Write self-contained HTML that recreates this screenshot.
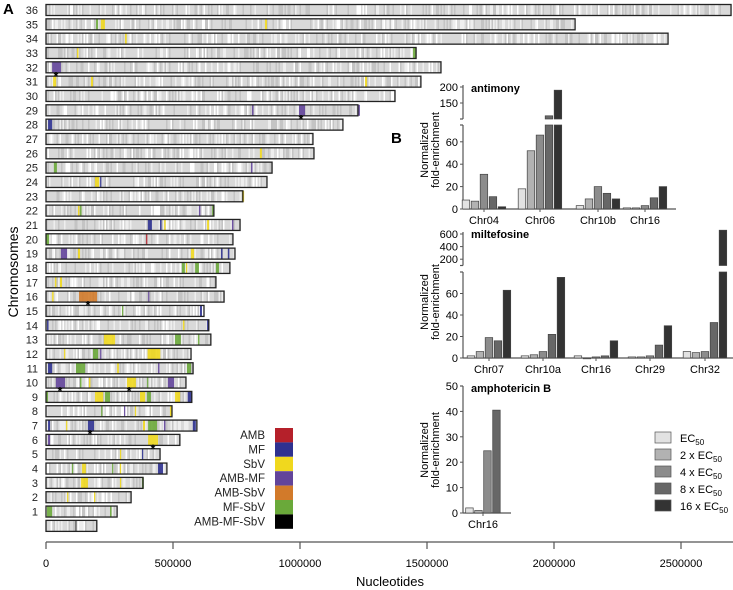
<!DOCTYPE html>
<html><head><meta charset="utf-8"><style>
html,body{margin:0;padding:0;background:#fff;}
svg{display:block;font-family:"Liberation Sans",sans-serif;}
</style></head><body>
<svg id="fig" width="733" height="590" viewBox="0 0 733 590" xmlns="http://www.w3.org/2000/svg">
<g id="panelA"></g>
<g id="panelB"></g>
</svg>
<script>
// ---------- Panel A data ----------
const chrNames = ["36","35","34","33","32","31","30","29","28","27","26","25","24","23","22","21","20","19","18","17","16","15","14","13","12","11","10","9","8","7","6","5","4","3","2","1",""];
const chrLengths = [2697000,2083000,2449000,1457000,1555000,1476000,1374000,1228000,1169000,1051000,1055000,890000,870000,775000,661000,764000,736000,744000,724000,669000,701000,622000,641000,649000,571000,579000,551000,574000,496000,594000,527000,449000,476000,382000,335000,280000,200000];
const featChr = ["35","35","35","34","33","33","32","31","31","31","29","29","29","28","26","25","25","24","24","23","22","22","22","22","21","21","21","21","21","20","20","19","19","19","19","19","18","18","18","18","17","17","16","16","16","15","15","14","14","14","13","13","13","12","12","12","12","11","11","11","11","11","10","10","10","10","10","10","9","9","9","9","9","9","9","8","8","8","8","7","7","7","7","7","7","7","6","6","5","5","4","4","4","4","4","3","3","3","2","2","1","1"];
const featStart = [197000,216000,862000,311000,122000,1445000,24000,28000,177000,1256000,811000,996000,1228000,8000,842000,31000,807000,193000,213000,772000,126000,134000,602000,654000,401000,449000,465000,634000,732000,0,394000,59000,126000,571000,689000,716000,535000,551000,587000,669000,35000,55000,24000,130000,402000,299000,606000,4000,539000,634000,228000,508000,598000,71000,185000,213000,400000,8000,118000,280000,441000,555000,39000,134000,169000,319000,398000,480000,0,193000,232000,370000,398000,508000,558000,217000,307000,350000,488000,8000,79000,165000,382000,402000,464000,578000,8000,402000,291000,378000,102000,142000,260000,291000,441000,138000,291000,378000,83000,189000,4000,252000];
const featEnd = [205000,232000,870000,318000,128000,1455000,59000,40000,185000,1264000,817000,1020000,1236000,24000,850000,43000,813000,209000,218000,780000,132000,140000,608000,660000,417000,455000,471000,642000,738000,12000,399000,83000,134000,583000,695000,722000,547000,556000,602000,681000,41000,63000,30000,201000,407000,304000,614000,10000,545000,640000,272000,531000,604000,76000,205000,218000,450000,24000,154000,287000,447000,571000,75000,140000,175000,354000,402000,504000,8000,225000,252000,390000,413000,528000,575000,222000,312000,355000,496000,16000,84000,189000,390000,437000,470000,590000,16000,441000,296000,382000,107000,157000,264000,296000,461000,165000,296000,385000,88000,194000,24000,258000];
const featType = ["MF-SbV","SbV","SbV","SbV","SbV","MF-SbV","AMB-MF","SbV","SbV","SbV","AMB-MF","AMB-MF","AMB-MF","MF","SbV","MF-SbV","AMB-MF","SbV","MF","SbV","SbV","MF-SbV","AMB-MF","MF-SbV","MF","MF","SbV","SbV","AMB-MF","MF-SbV","AMB","AMB-MF","SbV","SbV","MF","MF","MF-SbV","SbV","MF-SbV","MF-SbV","SbV","SbV","SbV","AMB-SbV","AMB-MF","MF-SbV","MF","MF","SbV","MF","SbV","MF-SbV","MF-SbV","SbV","MF-SbV","AMB-MF","SbV","MF","MF-SbV","SbV","AMB-MF","MF-SbV","AMB-MF","MF-SbV","SbV","SbV","MF-SbV","AMB-MF","MF-SbV","SbV","MF-SbV","SbV","MF-SbV","SbV","MF","MF-SbV","AMB-MF","SbV","SbV","MF","SbV","MF","SbV","MF-SbV","AMB-MF","MF","AMB-MF","SbV","SbV","MF","MF-SbV","SbV","MF-SbV","SbV","MF","SbV","SbV","MF-SbV","SbV","SbV","MF-SbV","MF-SbV"];
const starNt = [39000,1004000,165000,55000,327000,173000,421000];
const starRowBelow = ["32","29","16","10","10","7","6"];
const legendTypes = ["AMB","MF","SbV","AMB-MF","AMB-SbV","MF-SbV","AMB-MF-SbV"];
const legendColors = ["#b5202a","#2e3190","#f0d81e","#62449a","#d27a2a","#6aa93a","#000000"];
const xTicks = [0,500000,1000000,1500000,2000000,2500000];

// ---------- Panel B data ----------
const doseLabels = ["EC50","2 x EC50","4 x EC50","8 x EC50","16 x EC50"];
const doseColors = ["#e2e2e2","#b2b2b2","#8c8c8c","#676767","#333333"];
const sbCats = ["Chr04","Chr06","Chr10b","Chr16"];
const sbVals = [[8,7,31,11,2],[18,52,66,110,190],[3,9,20,14,9],[1,1,3,10,20]];
const mfCats = ["Chr07","Chr10a","Chr16","Chr29","Chr32"];
const mfVals = [[2,6,19,16,63],[2,3,6,22,75],[2,0,1,2,16],[1,1,2,12,30],[6,5,6,33,660]];
const ampCats = ["Chr16"];
const ampVals = [[2,1,24.5,40.5]];

const NS = "http://www.w3.org/2000/svg";
function mk(tag, attrs, parent, text){
  const e = document.createElementNS(NS, tag);
  for (const k in attrs) e.setAttribute(k, attrs[k]);
  if (text !== undefined) e.textContent = text;
  parent.appendChild(e); return e;
}
const A = document.getElementById("panelA");
const B = document.getElementById("panelB");
const xA = nt => 46 + nt * 127 / 500000;
const rowY = i => 10 + i * 14.33;
const colorOf = t => legendColors[legendTypes.indexOf(t)];

// title labels
let t = mk("text",{x:3,y:14,"font-size":15,"font-weight":"bold"},A,"A");
 
t = mk("text",{x:391,y:143,"font-size":15,"font-weight":"bold"},B,"B");
 
t = mk("text",{x:0,y:0,"font-size":14,"text-anchor":"middle",transform:"translate(18,272) rotate(-90)"},A,"Chromosomes");
 

// texture hash (pure visual texture)
function hsh(n){ n = (n ^ 61) ^ (n >>> 16); n = n + (n << 3); n = n ^ (n >>> 4); n = Math.imul(n, 0x27d4eb2d); n = n ^ (n >>> 15); return (n >>> 0) / 4294967295; }

chrNames.forEach((nm, i) => {
  const y = rowY(i), h = 11, x0 = xA(0), x1 = xA(chrLengths[i]);
  const g = mk("g",{},A);
  
  
  mk("rect",{x:x0,y:y-h/2,width:x1-x0,height:h,fill:"#d9d9d9"},g);
  for (let x = x0; x < x1 - 1; x += 1.5) {
    const r = hsh(i * 10007 + Math.round(x * 2));
    if (r > 0.55) {
      const c = r > 0.9 ? "#ffffff" : (r > 0.75 ? "#eeeeee" : "#c4c4c4");
      mk("rect",{x:x,y:y-h/2,width:1.5,height:h,fill:c},g);
    }
  }
  featChr.forEach((c, k) => {
    if (c !== nm) return;
    const fx = xA(featStart[k]), fw = Math.max(1.2, xA(featEnd[k]) - fx);
    const f = mk("rect",{x:fx,y:y-h/2,width:fw,height:h,fill:colorOf(featType[k]),opacity:0.9},g);
    
    
  });
  if (nm === "") mk("line",{x1:xA(118000),x2:xA(118000),y1:y-h/2,y2:y+h/2,stroke:"#333","stroke-width":1},g);
  mk("rect",{x:x0,y:y-h/2,width:x1-x0,height:h,fill:"none",stroke:"#222","stroke-width":1.3},g);
  if (nm) {
    const l = mk("text",{x:38,y:y+4,"font-size":11,"text-anchor":"end",fill:"#222"},g,nm);
     
  }
});
starNt.forEach((nt, k) => {
  const i = chrNames.indexOf(starRowBelow[k]);
  const s = mk("text",{x:xA(nt),y:rowY(i)+13,"font-size":12,"font-weight":"bold","text-anchor":"middle"},A,"*");
   
});
// legend A
legendTypes.forEach((lt, k) => {
  const y = 428 + k * 14.4;
  const r = mk("rect",{x:275,y:y,width:18,height:14.4,fill:legendColors[k]},A);
   
  const l = mk("text",{x:265,y:y+11,"font-size":11.5,"text-anchor":"end",fill:"#222"},A,lt);
   
});
// x axis
const ax = mk("g",{},A);
 
mk("line",{x1:46,x2:733,y1:542,y2:542,stroke:"#555","stroke-width":1.3},ax);
xTicks.forEach(v => {
  mk("line",{x1:xA(v),x2:xA(v),y1:542,y2:549,stroke:"#555","stroke-width":1.2},ax);
  const l = mk("text",{x:xA(v),y:567,"font-size":11,"text-anchor":"middle"},ax,String(v));
   
});
t = mk("text",{x:390,y:586,"font-size":13,"text-anchor":"middle"},A,"Nucleotides");
 

// ---------- Panel B charts ----------
function chart(cfg){
  const g = mk("g",{},B);
  
  
  const ax0 = 463;
  const yLow = v => cfg.y0 - (v / cfg.lowMax) * (cfg.y0 - cfg.lowTop);
  const yUp = v => cfg.upBot - (v - cfg.upMin) / (cfg.upMax - cfg.upMin) * (cfg.upBot - cfg.upTop);
  // axes
  mk("line",{x1:ax0,x2:ax0,y1:cfg.y0,y2:cfg.lowTop,stroke:"#555","stroke-width":1.2},g);
  mk("line",{x1:ax0-3,x2:ax0,y1:cfg.lowTop,y2:cfg.lowTop,stroke:"#555","stroke-width":1.2},g);
  mk("line",{x1:ax0,x2:cfg.xEnd,y1:cfg.y0,y2:cfg.y0,stroke:"#555","stroke-width":1.2},g);
  cfg.lowTicks.forEach(v => {
    mk("line",{x1:ax0-3,x2:ax0,y1:yLow(v),y2:yLow(v),stroke:"#555"},g);
    const l = mk("text",{x:ax0-5,y:yLow(v)+4,"font-size":11,"text-anchor":"end"},g,String(v));
     
  });
  if (cfg.upTicks) {
    mk("line",{x1:ax0,x2:ax0,y1:cfg.upBot,y2:cfg.upTop-2,stroke:"#555","stroke-width":1.2},g);
    mk("line",{x1:ax0-3,x2:ax0,y1:cfg.upBot,y2:cfg.upBot,stroke:"#555","stroke-width":1.2},g);
    cfg.upTicks.forEach(v => {
      mk("line",{x1:ax0-3,x2:ax0,y1:yUp(v),y2:yUp(v),stroke:"#555"},g);
      const l = mk("text",{x:ax0-5,y:yUp(v)+4,"font-size":11,"text-anchor":"end"},g,String(v));
       
    });
  }
  const yl = mk("text",{x:0,y:0,"font-size":11,"text-anchor":"middle",transform:`translate(${cfg.labX},${cfg.labY}) rotate(-90)`},g);
   
  mk("tspan",{x:0,dy:0},yl,"Normalized");
  mk("tspan",{x:0,dy:11},yl,"fold-enrichment");
  const tt = mk("text",{x:ax0+8,y:cfg.titleY,"font-size":11,"font-weight":"bold"},g,cfg.title);
   
  cfg.cats.forEach((c, ci) => {
    const cx = cfg.centers[ci], vals = cfg.vals[ci], n = vals.length, bw = 7.5, step = 9;
    vals.forEach((v, bi) => {
      const x = cx - (n * step) / 2 + bi * step + 0.7;
      const top = v > cfg.lowMax ? cfg.lowTop : yLow(v);
      const b = mk("rect",{x:x,y:top,width:bw,height:Math.max(0.8,cfg.y0-top),fill:doseColors[bi],stroke:"#444","stroke-width":0.7},g);
      
      
      if (v > cfg.lowMax && cfg.upTicks) {
        const ut = yUp(v);
        const b2 = mk("rect",{x:x,y:ut,width:bw,height:Math.max(1,cfg.upBot-ut),fill:doseColors[bi],stroke:"#444","stroke-width":0.7},g);
        
        
      }
    });
    mk("line",{x1:cx,x2:cx,y1:cfg.y0,y2:cfg.y0+3,stroke:"#555"},g);
    const l = mk("text",{x:cx,y:cfg.y0+15,"font-size":11,"text-anchor":"middle"},g,c);
     
  });
}
chart({name:"antimony-chart",title:"antimony",titleY:92,cats:sbCats,vals:sbVals,centers:[484,540,598,645],
  y0:209,lowMax:75,lowTop:125,lowTicks:[0,20,40,60],upMin:100,upMax:200,upBot:119,upTop:87,upTicks:[150,200],
  xEnd:676,labX:428,labY:150});
chart({name:"miltefosine-chart",title:"miltefosine",titleY:238,cats:mfCats,vals:mfVals,centers:[489,543,596,650,705],
  y0:358,lowMax:80,lowTop:272,lowTicks:[0,20,40,60],upMin:100,upMax:600,upBot:265.5,upTop:234,upTicks:[200,400,600],
  xEnd:733,labX:428,labY:302});
chart({name:"amphotericin-b-chart",title:"amphotericin B",titleY:392,cats:ampCats,vals:ampVals,centers:[483],
  y0:513,lowMax:50,lowTop:386,lowTicks:[0,10,20,30,40,50],xEnd:511,labX:428,labY:450});

// dose legend
doseLabels.forEach((d, k) => {
  const y = 438 + k * 17;
  const r = mk("rect",{x:655,y:y-6,width:16,height:11,fill:doseColors[k],stroke:"#555","stroke-width":0.7},B);
   
  const l = mk("text",{x:680,y:y+4,"font-size":11},B);
   
  mk("tspan",{},l,d.replace("EC50","EC"));
  mk("tspan",{"font-size":8,dy:3},l,"50");
});
</script>
</body></html>
